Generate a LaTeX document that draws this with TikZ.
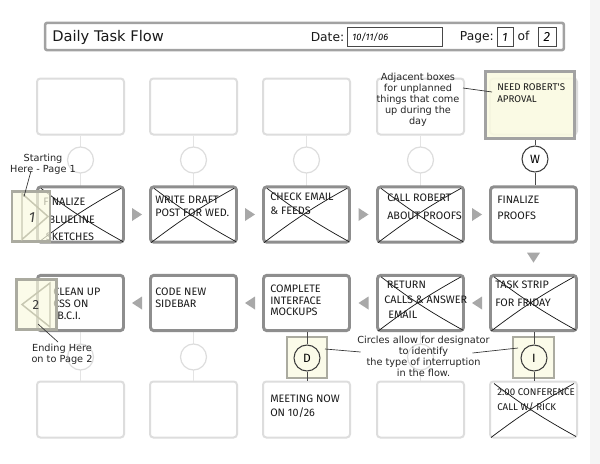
\documentclass[tikz,border=0pt]{standalone}
\usepackage{fontspec}
\setmainfont{DejaVu Sans}
\newfontfamily\hwfont{Fira Sans}
\usetikzlibrary{calc}
\definecolor{faint}{HTML}{DDDDDD}
\definecolor{boxgray}{HTML}{8E8E8E}
\definecolor{arrowgray}{HTML}{A8A8A8}
\definecolor{note}{HTML}{FAFAE0}
\definecolor{notebd}{HTML}{ABABA0}
\definecolor{tricol}{HTML}{C8C8B2}
\definecolor{ink}{HTML}{1A1A1A}
\definecolor{hdrgray}{HTML}{A2A2A2}
\begin{document}
\begin{tikzpicture}[x=0.75pt,y=-0.75pt,
 fbox/.style={draw=faint,line width=1.5pt,rounded corners=2.5pt,minimum width=65.25pt,minimum height=42pt,inner sep=0pt},
 mbox/.style={draw=boxgray,line width=2.2pt,rounded corners=2.5pt,fill=white,minimum width=64.5pt,minimum height=41.5pt,inner sep=0pt},
 fcirc/.style={circle,draw=faint,line width=0.9pt,fill=white,minimum size=19.5pt,inner sep=0pt},
 icirc/.style={circle,draw=ink!85,line width=0.8pt,minimum size=19.5pt,inner sep=0pt,font=\hwfont\fontsize{9}{9}\selectfont},
 fline/.style={draw=faint!80,line width=0.6pt},
 iline/.style={draw=ink!80,line width=0.7pt},
 xline/.style={draw=ink,line width=0.55pt},
 marker/.style={draw=notebd,line width=1.6pt,fill=note,fill opacity=0.7,inner sep=0pt},
 mtri/.style={draw=tricol,line width=1.1pt},
 hw/.style={font=\hwfont\fontsize{8.1}{#1}\selectfont,align=left,anchor=north west,inner sep=0pt,text=ink},
 hws/.style={font=\hwfont\fontsize{7.3}{#1}\selectfont,align=left,anchor=north west,inner sep=0pt,text=ink},
 ann/.style={font=\fontsize{7.3}{8.25}\selectfont,align=center,inner sep=0pt,text=black!85},
 leader/.style={draw=black!80,line width=0.5pt},
 garrow/.style={fill=arrowgray},
 hdrbox/.style={draw=ink!80,line width=0.5pt,inner sep=0pt,minimum height=14.5pt}
]
\fill[white] (0,0) rectangle (600,464);
\useasboundingbox (0,0) rectangle (600,464);
\fill[black!4] (590,0) rectangle (600,464);

% header
\node[draw=hdrgray,line width=1.9pt,rounded corners=1.5pt,minimum width=389pt,minimum height=20.5pt,inner sep=0pt] (hdr) at (304.5,36.5) {};
\node[anchor=west,inner sep=0pt,font=\fontsize{11}{11}\selectfont,text=black!90] (title) at (52,37.5) {Daily Task Flow};
\node[anchor=east,inner sep=0pt,font=\fontsize{9.2}{9.2}\selectfont,text=black!90] (datel) at (344.5,37) {Date:};
\node[hdrbox,minimum width=71pt] (dateb) at (394.5,37) {};
\node[anchor=west,inner sep=0pt,font=\hwfont\itshape\fontsize{7}{7}\selectfont] (datet) at (352,37.5) {10/11/06};
\node[anchor=east,inner sep=0pt,font=\fontsize{9.2}{9.2}\selectfont,text=black!90] (pagel) at (494,37) {Page:};
\node[hdrbox,minimum width=12pt,font=\hwfont\itshape\fontsize{9}{9}\selectfont] (pg1) at (505,37) {1};
\node[inner sep=0pt,font=\fontsize{9.2}{9.2}\selectfont,text=black!90] (of) at (523.5,36) {of};
\node[hdrbox,minimum width=13.5pt,font=\hwfont\itshape\fontsize{10}{10}\selectfont] (pg2) at (547,37) {2};

% boxes
\node[fbox] (b11) at (80.5,106.5) {};
\node[fbox] (b12) at (193.5,106.5) {};
\node[fbox] (b13) at (306.5,106.5) {};
\node[fbox] (b14) at (420.5,106.5) {};
\node[fbox] (b15) at (533.5,106.5) {};
\node[fbox] (b41) at (80.5,409.5) {};
\node[fbox] (b42) at (193.5,409.5) {};
\node[fbox] (b43) at (306.5,409.5) {};
\node[fbox] (b44) at (420.5,409.5) {};
\node[fbox] (b45) at (533.5,409.5) {};

% faint connector lines
\foreach \c in {1,2,3,4}{\draw[fline] (b1\c.south) -- (b1\c.south |- 0,186);}
\foreach \c in {1,2,4}{\draw[fline] (b4\c.north) -- (b4\c.north |- 0,332);}

\node[mbox] (b21) at (80.5,214.5) {};
\node[mbox] (b22) at (193.5,214.5) {};
\node[mbox] (b23) at (306.5,214.5) {};
\node[mbox] (b24) at (420.5,214.5) {};
\node[mbox] (b25) at (533.5,214.5) {};
\node[mbox] (b31) at (80.5,303) {};
\node[mbox] (b32) at (193.5,303) {};
\node[mbox] (b33) at (306.5,303) {};
\node[mbox] (b34) at (420.5,303) {};
\node[mbox] (b35) at (533.5,303) {};

% faint circles
\node[fcirc] (c11) at (80.5,160) {};
\node[fcirc] (c12) at (193.5,160) {};
\node[fcirc] (c13) at (306.5,160) {};
\node[fcirc] (c14) at (420.5,160) {};
\node[fcirc] (c31) at (80.5,357) {};
\node[fcirc] (c32) at (193.5,357) {};
\node[fcirc] (c34) at (420.5,357) {};

% cross-outs
\foreach \b in {b21,b22,b23,b24,b34,b35,b45}{
  \draw[xline] ([shift={(2,-1)}]\b.south west) to[bend left=4] ([shift={(-4,3)}]\b.north east);
  \draw[xline] ([shift={(5,3)}]\b.north west) to[bend right=4] ([shift={(-2,-2)}]\b.south east);
}

% gray flow arrows
\foreach \a/\b in {b21/b22,b22/b23,b23/b24,b24/b25}{
  \fill[garrow] ($(\a.east)!0.5!(\b.west)$) ++(-5,-6.5) -- ++(10,6.5) -- ++(-10,6.5) -- cycle;}
\foreach \a/\b in {b31/b32,b32/b33,b33/b34,b34/b35}{
  \fill[garrow] ($(\a.east)!0.5!(\b.west)$) ++(5,-6.5) -- ++(-10,6.5) -- ++(10,6.5) -- cycle;}
\fill[garrow] ([yshift=-10.5pt]b25.south) ++(-6.5,-5) -- ++(13,0) -- ++(-6.5,10) -- cycle;

% yellow adjacent box and W
\node[draw=hdrgray,line width=2.2pt,fill=note,fill opacity=0.85,minimum width=66.5pt,minimum height=50.5pt,inner sep=0pt] (yb) at (530,105) {};
\node[icirc] (w) at (535,159) {W};
\draw[iline] (w.north) -- (w.north |- yb.south);
\draw[iline] (w.south) -- (w.south |- b25.north);

% D and I markers
\node[marker,minimum width=30.5pt,minimum height=30.5pt] (sq3) at (307,357.5) {};
\node[marker,minimum width=30.5pt,minimum height=30.5pt] (sq4) at (533.5,357.5) {};
\node[icirc] (dc) at (307,358) {D};
\node[icirc] (ic) at (534,358) {I};
\draw[iline] (dc.north) -- (dc.north |- b33.south);
\draw[iline] (dc.south) -- (dc.south |- b43.north);
\draw[iline] (ic.north) -- (ic.north |- b35.south);
\draw[iline] (ic.south) -- (ic.south |- b45.north);

% handwritten texts
\node[hws=9] (t15) at (497,83) {NEED ROBERT'S\\APROVAL};
\node[hw=13.1] (t21) at (43,198) {FINALIZE\\\hspace*{4pt}BLUELINE\\\hspace*{2pt}SKETCHES};
\node[hw=9.5] (t22) at (155,196) {WRITE DRAFT\\POST FOR WED.};
\node[hw=10.5] (t23) at (270,193) {CHECK EMAIL\\\& FEEDS};
\node[hw=13.5] (t24) at (387,194) {CALL ROBERT\\ABOUT PROOFS};
\node[hw=12] (t25) at (497,196) {FINALIZE\\PROOFS};
\node[hw=13.5] (t35) at (495,281) {TASK STRIP\\FOR FRIDAY};
\node[hw=11.25] (t34) at (384,281) {\hspace*{2pt}RETURN\\CALLS \& ANSWER\\\hspace*{3pt}EMAIL};
\node[hw=8.6] (t33) at (270,285) {COMPLETE\\INTERFACE\\MOCKUPS};
\node[hw=8.6] (t32) at (155,288) {CODE NEW\\SIDEBAR};
\node[hw=8.8] (t31) at (53,288) {CLEAN UP\\CSS ON\\\hspace*{3pt}B.C.I.};
\node[hw=10.5] (t43) at (270,395) {MEETING NOW\\ON 10/26};
\node[hws=11.25] (t45) at (497,388) {2:00 CONFERENCE\\CALL W/ RICK};

% start / end markers
\node[marker,minimum width=29pt,minimum height=37.5pt] (sq1) at (31,216.5) {};
\draw[mtri] ([shift={(-9,-23)}]sq1.center) -- ([shift={(-9,23)}]sq1.center) -- ([shift={(17,0)}]sq1.center) -- cycle;
\node[inner sep=0pt,font=\hwfont\itshape\fontsize{11}{11}\selectfont,text=black!75] (n1) at (32,218) {1};
\node[marker,minimum width=30pt,minimum height=37.5pt] (sq2) at (36.5,304.5) {};
\draw[mtri] ([shift={(-14.5,0)}]sq2.center) -- ([shift={(13.5,-21.5)}]sq2.center) -- ([shift={(13.5,22.5)}]sq2.center) -- cycle;
\node[inner sep=0pt,font=\hwfont\fontsize{10}{10}\selectfont,text=black!75] (n2) at (36,305) {2};

% annotations
\node[ann] (ann1) at (43,164.5) {Starting\\Here - Page 1};
\node[ann] (ann2) at (418,99.5) {Adjacent boxes\\for unplanned\\things that come\\up during the\\day};
\node[ann] (ann3) at (62,354) {Ending Here\\on to Page 2};
\node[ann] (ann4) at (423.5,356.5) {Circles allow for designator\\to identify\\the type of interruption\\in the flow.};
\draw[leader] ([shift={(-12,-4)}]ann1.south) -- ([shift={(-7,-20)}]sq1.center);
\draw[leader] ([shift={(45,-11.5)}]ann2.center) -- ([shift={(-38,-13)}]yb.center);
\draw[leader] ([shift={(1.5,19.5)}]sq2.center) -- ([shift={(-4,-12)}]ann3.center);
\draw[leader] ([shift={(18,-8.5)}]sq3.center) -- ([shift={(-63,-4.5)}]ann4.center);
\draw[leader] ([shift={(49,-3.5)}]ann4.center) -- ([shift={(-15.5,-9.5)}]sq4.center);
\end{tikzpicture}
\end{document}
